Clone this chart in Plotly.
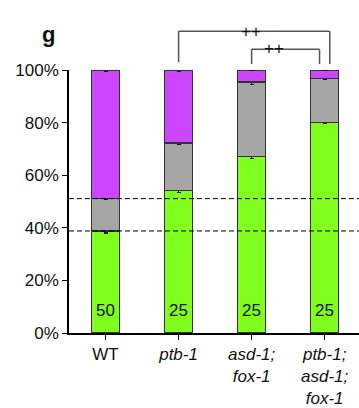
import plotly.graph_objects as go

categories = ["WT", "<i>ptb-1</i>", "<i>asd-1;<br>fox-1</i>", "<i>ptb-1;<br>asd-1;<br>fox-1</i>"]
green_vals = [38.8, 54.3, 67.2, 80.0]
gray_vals = [12.3, 17.9, 28.2, 16.9]
purple_vals = [48.9, 27.8, 4.6, 3.1]
green_err = [0.8, 1.0, 0.8, 0.3]
gray_err = [0.4, 0.3, 0.9, 0.3]
purple_err = [0.7, 0.7, 0.3, 0.3]
n_labels = ["50", "25", "25", "25"]
ref_lines = [38.8, 51.1]
y_ticks = [0, 20, 40, 60, 80, 100]
y_ticktext = [f"{v}%" for v in y_ticks]

FONT = "Liberation Sans, Arial, Helvetica, sans-serif"
xs = list(range(len(categories)))
XR = (-0.5, 3.47)

def px(xd):
    return (xd - XR[0]) / (XR[1] - XR[0])

fig = go.Figure()
for vals, errs, col in [(green_vals, green_err, "#80FF1F"),
                        (gray_vals, gray_err, "#A6A6A6"),
                        (purple_vals, purple_err, "#CC45FF")]:
    fig.add_trace(go.Bar(
        x=xs, y=vals, width=0.385,
        marker=dict(color=col, line=dict(color="#333333", width=1.3)),
        error_y=dict(type="data", array=errs, visible=True, color="#111111", thickness=1.3, width=2),
        hoverinfo="skip", showlegend=False))

shapes = []
for v in ref_lines:
    shapes.append(dict(type="line", xref="paper", yref="y", x0=0, x1=1, y0=v, y1=v,
                       line=dict(color="black", width=1, dash="5px,3px"), layer="above"))

bc = "#555555"
ol, orr = px(1), px(3.07)
shapes += [
    dict(type="line", xref="paper", yref="paper", x0=ol, x1=orr, y0=1.147, y1=1.147, line=dict(color=bc, width=1.5)),
    dict(type="line", xref="paper", yref="paper", x0=ol, x1=ol, y0=1.147, y1=1.030, line=dict(color=bc, width=1.5)),
    dict(type="line", xref="paper", yref="paper", x0=orr, x1=orr, y0=1.147, y1=1.023, line=dict(color=bc, width=1.5)),
]
il, ir = px(2), px(2.93)
shapes += [
    dict(type="line", xref="paper", yref="paper", x0=il, x1=ir, y0=1.079, y1=1.079, line=dict(color=bc, width=1.5)),
    dict(type="line", xref="paper", yref="paper", x0=il, x1=il, y0=1.079, y1=1.023, line=dict(color=bc, width=1.5)),
    dict(type="line", xref="paper", yref="paper", x0=ir, x1=ir, y0=1.079, y1=1.023, line=dict(color=bc, width=1.5)),
]

annotations = []
for x, t in zip(xs, n_labels):
    annotations.append(dict(x=x, y=8.7, xref="x", yref="y", text=t, showarrow=False,
                            font=dict(family=FONT, size=17, color="#111111")))
annotations.append(dict(x=(ol + orr) / 2 - 0.01, y=1.19, xref="paper", yref="paper", text="++",
                        showarrow=False, font=dict(family=FONT, size=17, color="#111111")))
annotations.append(dict(x=(il + ir) / 2, y=1.124, xref="paper", yref="paper", text="++",
                        showarrow=False, font=dict(family=FONT, size=17, color="#111111")))
annotations.append(dict(x=-0.1, y=1.19, xref="paper", yref="paper", text="<b>g</b>",
                        showarrow=False, font=dict(family=FONT, size=22, color="#111111")))

fig.update_layout(
    width=359, height=408,
    margin=dict(l=69, r=0, t=70, b=73),
    paper_bgcolor="white", plot_bgcolor="white",
    barmode="stack",
    shapes=shapes, annotations=annotations,
    font=dict(family=FONT, size=17, color="#111111"),
    xaxis=dict(tickmode="array", tickvals=xs, ticktext=categories, range=list(XR),
               showline=True, linecolor="black", linewidth=1.5, ticks="outside",
               tickson="boundaries", ticklen=5, tickcolor="black", tickwidth=1.3,
               showgrid=False, zeroline=False, fixedrange=True),
    yaxis=dict(range=[0, 100], tickmode="array", tickvals=y_ticks, ticktext=y_ticktext,
               showline=True, linecolor="black", linewidth=1.5, ticks="outside",
               ticklen=5, tickcolor="black", tickwidth=1.3, showgrid=False, zeroline=False),
)
fig.write_html("out.html")
